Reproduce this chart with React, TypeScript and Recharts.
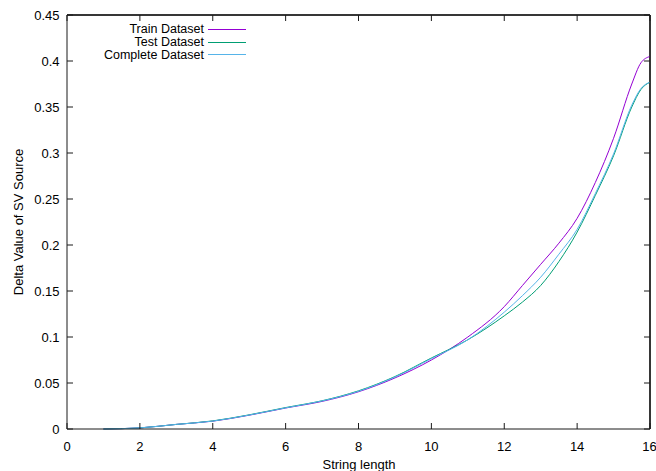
import { Legend, Line, LineChart, ReferenceLine, XAxis, YAxis } from 'recharts';

// string length samples (extra points near the top end follow the curve shape)
const lengths = [1, 2, 3, 4, 5, 6, 7, 8, 9, 10, 11, 12, 12.5, 13, 13.5, 14, 14.5, 15, 15.5, 15.75, 16];

const trainDelta = [0, 0.0012, 0.005, 0.0085, 0.015, 0.0228, 0.030, 0.0405, 0.0555, 0.075, 0.1, 0.133, 0.156, 0.179, 0.202, 0.229, 0.268, 0.316, 0.375, 0.398, 0.405];
const testDelta = [0, 0.0012, 0.005, 0.0088, 0.0154, 0.0233, 0.0307, 0.0415, 0.057, 0.0772, 0.097, 0.123, 0.138, 0.156, 0.182, 0.214, 0.254, 0.297, 0.35, 0.369, 0.377];
const completeDelta = [0, 0.0012, 0.005, 0.0086, 0.0152, 0.023, 0.0305, 0.041, 0.0565, 0.0765, 0.097, 0.127, 0.145, 0.165, 0.19, 0.217, 0.256, 0.299, 0.352, 0.37, 0.377];

const seriesNames = ['Train Dataset', 'Test Dataset', 'Complete Dataset'];
const seriesColors = ['#9400d3', '#009e73', '#56b4e9'];

const xTicks = [0, 2, 4, 6, 8, 10, 12, 14, 16];
const yTicks = [0, 0.05, 0.1, 0.15, 0.2, 0.25, 0.3, 0.35, 0.4, 0.45];

const data = lengths.map((len, i) => ({
  len,
  train: trainDelta[i],
  test: testDelta[i],
  complete: completeDelta[i],
}));

const FONT = '"Liberation Sans", Arial, sans-serif';
const FRAME = '#1a1a1a';
const tickStyle = { fill: '#000', fontSize: 13, fontFamily: FONT };

// gnuplot style key: right aligned titles with a short line sample
function LegendBox() {
  return (
    <div style={{ fontFamily: FONT, fontSize: 12.5, color: '#000' }}>
      {seriesNames.map((name, i) => (
        <div key={name} style={{ display: 'flex', alignItems: 'center', height: 12.8 }}>
          <span style={{ width: 204, textAlign: 'right', whiteSpace: 'nowrap', lineHeight: '12.8px' }}>{name}</span>
          <svg width={42} height={3} style={{ marginLeft: 4 }}>
            <line x1={0} x2={38} y1={1.5} y2={1.5} stroke={seriesColors[i]} strokeWidth={1} />
          </svg>
        </div>
      ))}
    </div>
  );
}

export default function App() {
  return (
    <div style={{ position: 'absolute', left: 0, top: 0 }}>
      <LineChart width={656} height={471} data={data} margin={{ top: 0, right: 0, left: 0, bottom: 0 }}>
        <XAxis
          dataKey="len"
          type="number"
          domain={[0, 16]}
          ticks={xTicks}
          height={42}
          stroke={FRAME}
          tickSize={-6}
          tickMargin={18.5}
          tick={tickStyle}
          label={() => (
            <text x={359} y={468.5} textAnchor="middle" fontSize={13} fontFamily={FONT} fill="#000">
              String length
            </text>
          )}
        />
        <XAxis
          xAxisId="top"
          orientation="top"
          dataKey="len"
          type="number"
          domain={[0, 16]}
          ticks={xTicks}
          height={15}
          stroke={FRAME}
          tickSize={-6}
          tickFormatter={() => ''}
        />
        <YAxis
          type="number"
          domain={[0, 0.45]}
          ticks={yTicks}
          width={67}
          stroke={FRAME}
          tickSize={-6}
          tickMargin={13.5}
          tick={tickStyle}
          label={() => (
            <text x={23} y={222} transform="rotate(-90, 23, 222)" textAnchor="middle" fontSize={13} fontFamily={FONT} fill="#000">
              Delta Value of SV Source
            </text>
          )}
        />
        <YAxis
          yAxisId="right"
          orientation="right"
          type="number"
          domain={[0, 0.45]}
          ticks={yTicks}
          width={6}
          stroke={FRAME}
          tickSize={-6}
          tickFormatter={() => ''}
        />
        {/* close the frame on top and right */}
        <ReferenceLine y={0.45} stroke={FRAME} strokeWidth={1.5} />
        <ReferenceLine x={16} stroke={FRAME} strokeWidth={1.5} />
        <Legend
          layout="vertical"
          align="center"
          verticalAlign="middle"
          wrapperStyle={{ top: 23, left: 0, width: 260 }}
          content={<LegendBox />}
        />
        <Line type="monotone" dataKey="train" name={seriesNames[0]} stroke={seriesColors[0]} strokeWidth={1} dot={false} isAnimationActive={false} />
        <Line type="monotone" dataKey="test" name={seriesNames[1]} stroke={seriesColors[1]} strokeWidth={1} dot={false} isAnimationActive={false} />
        {/* same domains as the main axes; bound to the mirror axes so their ticks are drawn */}
        <Line xAxisId="top" yAxisId="right" type="monotone" dataKey="complete" name={seriesNames[2]} stroke={seriesColors[2]} strokeWidth={1} dot={false} isAnimationActive={false} />
      </LineChart>
    </div>
  );
}
